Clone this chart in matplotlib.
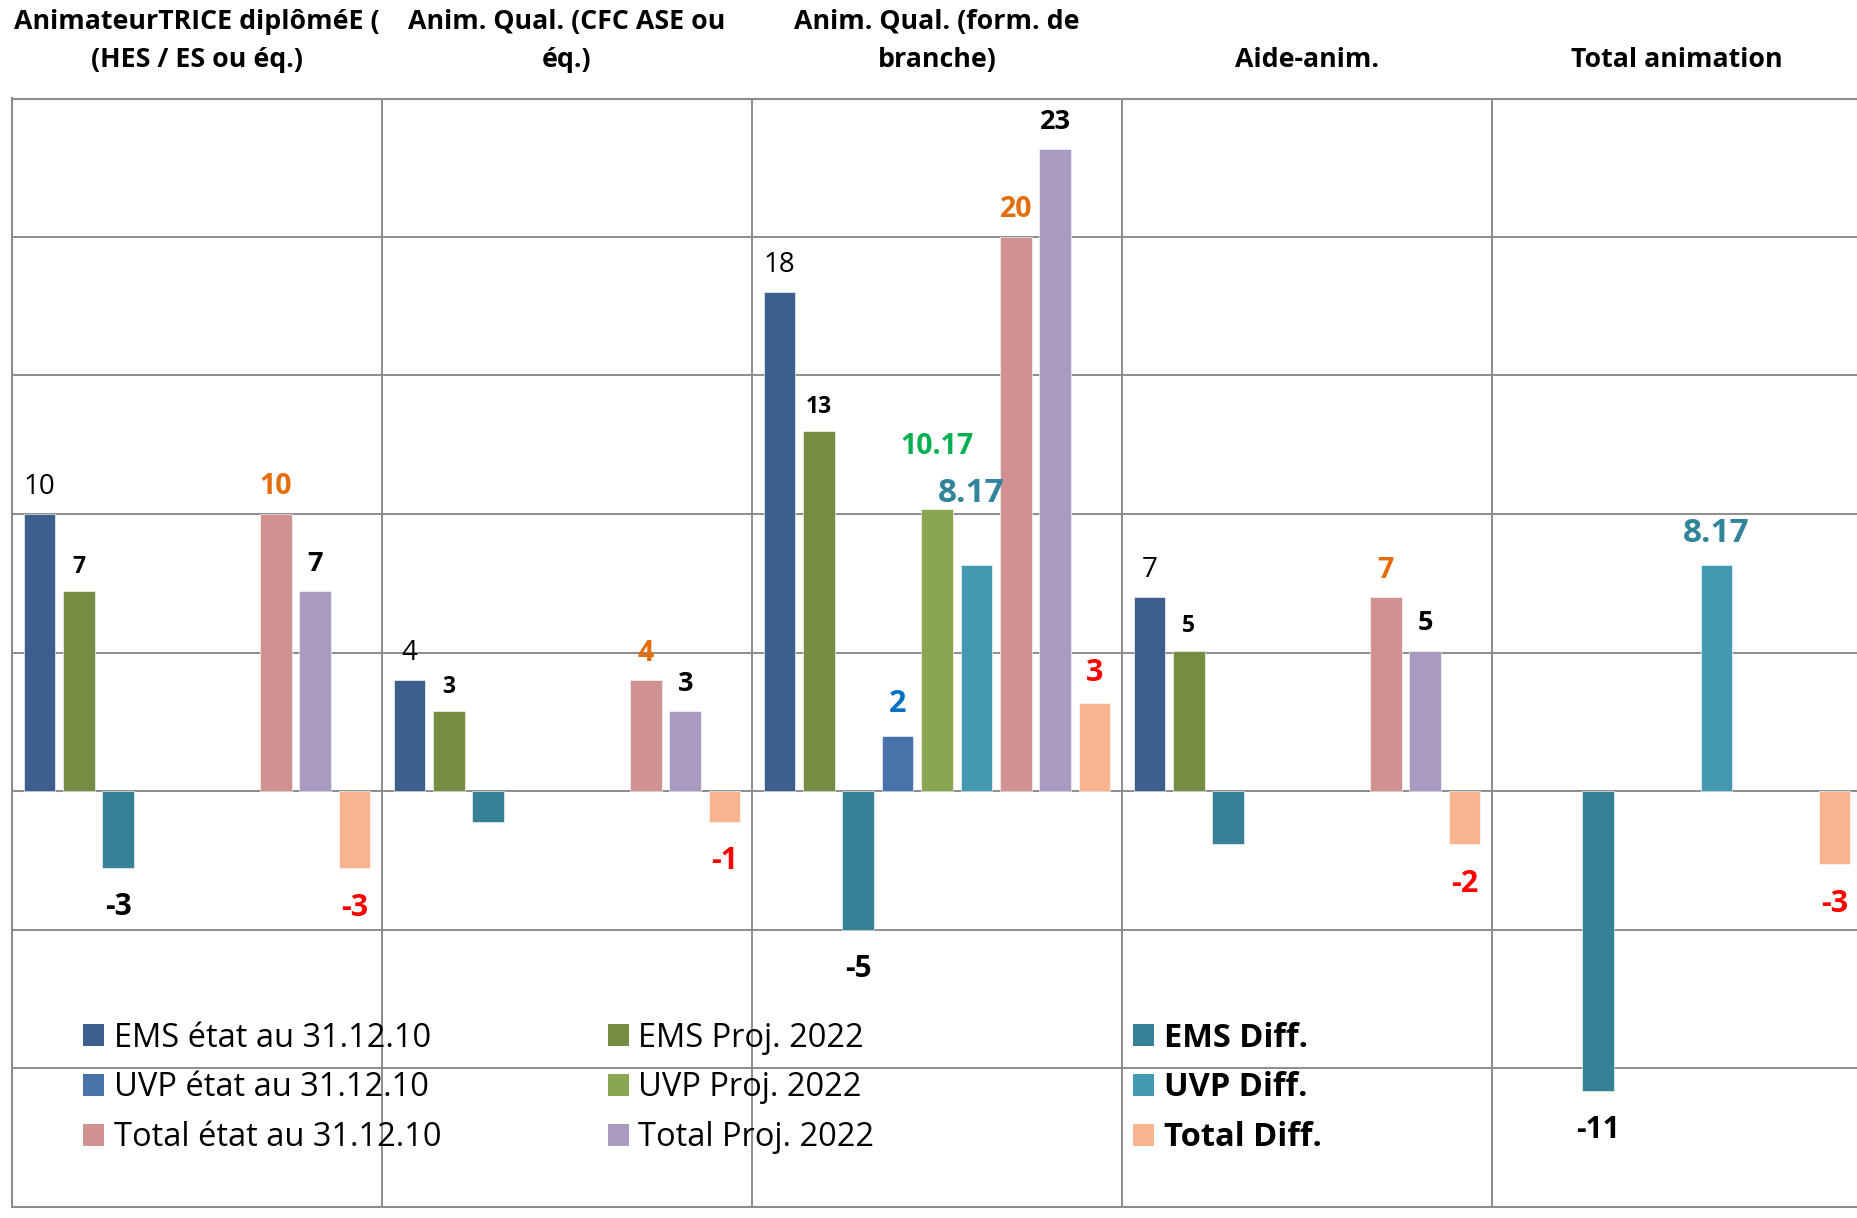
import numpy as np
import matplotlib
matplotlib.use("Agg")
import matplotlib.pyplot as plt
from matplotlib.patches import Patch

plt.rcParams['font.family'] = ['Open Sans', 'DejaVu Sans']

# ---------------- data ----------------
categories = ["AnimateurTRICE diplôméE (\n(HES / ES ou éq.)",
              "Anim. Qual. (CFC ASE ou\néq.)",
              "Anim. Qual. (form. de\nbranche)",
              "Aide-anim.",
              "Total animation"]
nan = np.nan
ems_etat = [10, 4, 18, 7, nan]
ems_proj = [7.22, 2.89, 13, 5.07, nan]
ems_diff = [-2.78, -1.11, -5, -1.93, -10.82]
uvp_etat = [nan, nan, 2, nan, nan]
uvp_proj = [nan, nan, 10.17, nan, nan]
uvp_diff = [nan, nan, 8.17, nan, 8.17]
total_etat = [10, 4, 20, 7, nan]
total_proj = [7.22, 2.89, 23.17, 5.07, nan]
total_diff = [-2.78, -1.11, 3.17, -1.93, -2.65]

series_names = ["EMS état au 31.12.10", "EMS Proj. 2022", "EMS Diff.",
                "UVP état au 31.12.10", "UVP Proj. 2022", "UVP Diff.",
                "Total état au 31.12.10", "Total Proj. 2022", "Total Diff."]
series_values = [ems_etat, ems_proj, ems_diff, uvp_etat, uvp_proj, uvp_diff,
                 total_etat, total_proj, total_diff]

# data labels that are not shown in the original (series index, category index)
hidden_labels = {(2, 1), (2, 3)}

# ---------------- styles ----------------
bar_colors = ["#3C5F8E", "#758D43", "#368196", "#4773AA", "#8BA650", "#4399B1",
              "#D09191", "#A99BBF", "#F7B48F"]
label_fmt = ['{:.0f}', '{:.0f}', '{:.0f}', '{:.0f}', '{:.2f}', '{:.2f}',
             '{:.0f}', '{:.0f}', '{:.0f}']
label_color = ['black', 'black', 'black', '#0070C0', '#00B050', '#31849B',
               '#E46C0A', 'black', '#FF0000']
label_weight = ['normal'] + ['bold'] * 8
label_size = [20, 16.5, 21.5, 22, 20.5, 24, 20.5, 19.5, 22]
label_off_pos = [19.5, 17.5, 22.5, 22.5, 19.5, 22.2, 19.5, 19.5, 22]
label_off_neg = [29, 29, 28.3, 29, 29, 29, 29, 29, 28.5]
special_offsets = {(4, 2): (0, 45.5), (5, 2): (-4, 51.5)}

grid_color = '#8C8C8C'

W, H = 1857, 1218
fig = plt.figure(figsize=(W / 100, H / 100), dpi=100)
ax = fig.add_axes([12 / W, (H - 1206.5) / H, 1850 / W, (1206.5 - 98.5) / H])

x = np.arange(len(categories))
nser = len(series_values)
pitch = 0.1065
width = 0.0854
handles = []
for i in range(nser):
    xi = x + (i - (nser - 1) / 2) * pitch
    vals = np.array(series_values[i], dtype=float)
    ax.bar(xi, vals, width, color=bar_colors[i], zorder=3,
           edgecolor='white', linewidth=0.4)
    handles.append(Patch(facecolor=bar_colors[i], label=series_names[i]))
    for j, v in enumerate(vals):
        if np.isnan(v) or (i, j) in hidden_labels:
            continue
        if (i, j) in special_offsets:
            dx, dy = special_offsets[(i, j)]
        else:
            dx, dy = (0, label_off_pos[i]) if v >= 0 else (0, -label_off_neg[i])
        ax.annotate(label_fmt[i].format(v), xy=(xi[j], v), xytext=(dx, dy),
                    textcoords='offset points', ha='center', va='center',
                    fontsize=label_size[i], fontweight=label_weight[i],
                    color=label_color[i], zorder=5)

ax.set_xlim(-0.5, len(categories) - 0.5)
ax.set_ylim(-15, 25)
ax.set_yticks(np.arange(-15, 26, 5))
ax.set_xticks(np.arange(-0.5, len(categories), 1))
ax.tick_params(length=0, labelleft=False, labelbottom=False)
ax.grid(True, color=grid_color, linewidth=1.4, zorder=0)
ax.set_axisbelow(True)
for s in ax.spines.values():
    s.set_color(grid_color)
    s.set_linewidth(1.5)

# category headers on top
for i, c in enumerate(categories):
    ax.annotate(c, xy=(i, 1), xycoords=('data', 'axes fraction'),
                xytext=(0, 18.7), textcoords='offset points', ha='center',
                va='bottom', fontsize=19.3, fontweight='bold', linespacing=1.58,
                annotation_clip=False)

# legend: three columns
fs = 23.5
fs_px = fs * 100 / 72
cols = [[0, 3, 6], [1, 4, 7], [2, 5, 8]]
col_x = [83, 607.5, 1133]
for k, idx in enumerate(cols):
    fig.legend([handles[t] for t in idx], [series_names[t] for t in idx],
               loc='center left', bbox_to_anchor=(col_x[k] / W, 1 - 1088 / H),
               bbox_transform=fig.transFigure, frameon=False,
               prop={'size': fs, 'weight': 'bold' if k == 2 else 'normal'},
               handlelength=21 / fs_px, handleheight=21 / fs_px,
               handletextpad=10 / fs_px, labelspacing=0.52,
               borderpad=0, borderaxespad=0)

fig.savefig('out.png', dpi=100)
